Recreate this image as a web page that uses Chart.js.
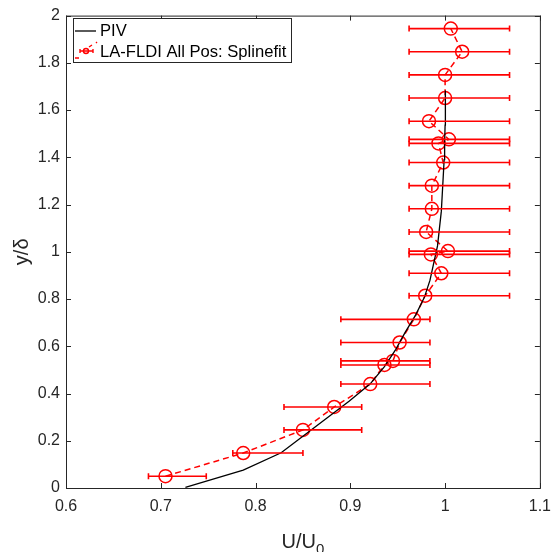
<!DOCTYPE html>
<html>
<head>
<meta charset="utf-8">
<script src="https://cdn.jsdelivr.net/npm/chart.js@4"></script>
<style>
  html, body { margin: 0; padding: 0; background: #fff; }
  canvas { display: block; }
</style>
</head>
<body>
<canvas id="chart" width="560" height="552"></canvas>
<script>
/* velocity profile: PIV vs LA-FLDI spline fit */

// PIV reference profile
const pivU = [0.726, 0.787, 0.827, 0.851, 0.875, 0.899, 0.921, 0.936, 0.948, 0.958, 0.969, 0.978,
              0.984, 0.988, 0.992, 0.994, 0.996, 0.997, 0.998, 0.999, 0.9995, 1.000, 1.0003, 1.0003];
const pivY = [0.003, 0.076, 0.149, 0.222, 0.295, 0.368, 0.441, 0.514, 0.587, 0.660, 0.733, 0.806,
              0.879, 0.952, 1.025, 1.098, 1.171, 1.244, 1.317, 1.390, 1.463, 1.536, 1.609, 1.683];

// LA-FLDI points (spline fit) with horizontal error bounds
const fldiU = [0.705, 0.787, 0.850, 0.883, 0.921, 0.936, 0.945, 0.952, 0.967, 0.979, 0.996, 0.985,
               1.003, 0.980, 0.986, 0.986, 0.998, 0.993, 1.004, 0.983, 1.000, 1.000, 1.018, 1.006];
const fldiY = [0.050, 0.148, 0.246, 0.343, 0.440, 0.521, 0.538, 0.616, 0.714, 0.814, 0.909, 0.989,
               1.003, 1.084, 1.182, 1.280, 1.378, 1.459, 1.476, 1.553, 1.651, 1.749, 1.847, 1.945];
const fldiLow  = [0.687, 0.776, 0.830, 0.830, 0.890, 0.890, 0.890, 0.890, 0.890, 0.962, 0.962, 0.962,
                  0.962, 0.962, 0.962, 0.962, 0.962, 0.962, 0.962, 0.962, 0.962, 0.962, 0.962, 0.962];
const fldiHigh = [0.748, 0.850, 0.912, 0.912, 0.984, 0.984, 0.984, 0.984, 0.984, 1.068, 1.068, 1.068,
                  1.068, 1.068, 1.068, 1.068, 1.068, 1.068, 1.068, 1.068, 1.068, 1.068, 1.068, 1.068];

const xTickValues = [0.6, 0.7, 0.8, 0.9, 1.0, 1.1];
const xTickLabels = ['0.6', '0.7', '0.8', '0.9', '1', '1.1'];
const yTickValues = [0, 0.2, 0.4, 0.6, 0.8, 1.0, 1.2, 1.4, 1.6, 1.8, 2.0];
const yTickLabels = ['0', '0.2', '0.4', '0.6', '0.8', '1', '1.2', '1.4', '1.6', '1.8', '2'];

const legendLabels = ['PIV', 'LA-FLDI All Pos: Splinefit'];

const FONT = "'Liberation Sans', Arial, sans-serif";
const AXIS = '#262626';
const RED = '#ff0000';

const toPts = (xs, ys) => xs.map((x, i) => ({ x, y: ys[i] }));

// horizontal error bars, drawn through the chart's own scales
const errorBars = {
    id: 'errorBars',
    afterDatasetsDraw(chart) {
        const { ctx, scales: { x, y } } = chart;
        ctx.save();
        ctx.strokeStyle = RED;
        ctx.lineWidth = 1.6;
        fldiY.forEach((v, i) => {
            const py = y.getPixelForValue(v);
            const x0 = x.getPixelForValue(fldiLow[i]);
            const x1 = x.getPixelForValue(fldiHigh[i]);
            ctx.beginPath();
            ctx.moveTo(x0, py); ctx.lineTo(x1, py);
            ctx.moveTo(x0, py - 3); ctx.lineTo(x0, py + 3);
            ctx.moveTo(x1, py - 3); ctx.lineTo(x1, py + 3);
            ctx.stroke();
        });
        ctx.restore();
    }
};

// matlab-style box with inward ticks, axis titles, legend
const frame = {
    id: 'frame',
    afterDraw(chart) {
        const { ctx, chartArea: a, scales: { x, y } } = chart;
        ctx.save();
        ctx.strokeStyle = AXIS;
        ctx.lineWidth = 1;
        ctx.strokeRect(a.left + 0.5, a.top + 0.5, a.right - a.left, a.bottom - a.top);
        ctx.beginPath();
        xTickValues.forEach(v => {
            const px = Math.round(x.getPixelForValue(v)) + 0.5;
            ctx.moveTo(px, a.bottom); ctx.lineTo(px, a.bottom - 5);
            ctx.moveTo(px, a.top); ctx.lineTo(px, a.top + 5);
        });
        yTickValues.forEach(v => {
            const py = Math.round(y.getPixelForValue(v)) + 0.5;
            ctx.moveTo(a.left, py); ctx.lineTo(a.left + 5, py);
            ctx.moveTo(a.right, py); ctx.lineTo(a.right - 5, py);
        });
        ctx.stroke();

        // x title U/U0
        ctx.fillStyle = AXIS;
        ctx.textBaseline = 'alphabetic';
        const main = 'U/U';
        ctx.font = '20px ' + FONT;
        const wMain = ctx.measureText(main).width;
        ctx.font = '15px ' + FONT;
        const wSub = ctx.measureText('0').width;
        const cx = (a.left + a.right) / 2;
        const sx = cx - (wMain + wSub) / 2;
        ctx.font = '20px ' + FONT;
        ctx.textAlign = 'left';
        ctx.fillText(main, sx, 548);
        ctx.font = '15px ' + FONT;
        ctx.fillText('0', sx + wMain, 554);

        // y title
        ctx.save();
        ctx.translate(28, (a.top + a.bottom) / 2);
        ctx.rotate(-Math.PI / 2);
        ctx.textAlign = 'center';
        ctx.font = '20px ' + FONT;
        ctx.fillText('y/δ', 0, 0);
        ctx.restore();

        // legend
        const lx = 73, ly = 18, lw = 218, lh = 44;
        ctx.fillStyle = '#fff';
        ctx.fillRect(lx, ly, lw, lh);
        ctx.strokeStyle = AXIS;
        ctx.strokeRect(lx + 0.5, ly + 0.5, lw, lh);
        ctx.font = '16.6px ' + FONT;
        ctx.fillStyle = '#000';
        ctx.textBaseline = 'middle';
        ctx.fillText(legendLabels[0], 100, 31);
        ctx.fillText(legendLabels[1], 100, 52);
        ctx.strokeStyle = '#000';
        ctx.lineWidth = 1.3;
        ctx.beginPath(); ctx.moveTo(75, 31); ctx.lineTo(96, 31); ctx.stroke();
        // mini errorbar marker
        ctx.strokeStyle = RED;
        ctx.lineWidth = 1.4;
        ctx.beginPath();
        ctx.moveTo(80, 51); ctx.lineTo(93, 51);
        ctx.moveTo(80, 49); ctx.lineTo(80, 53);
        ctx.moveTo(93, 49); ctx.lineTo(93, 53);
        ctx.stroke();
        ctx.beginPath(); ctx.arc(86, 51, 2.5, 0, Math.PI * 2); ctx.stroke();
        ctx.beginPath();
        ctx.moveTo(75, 58); ctx.lineTo(79, 58);
        ctx.moveTo(89, 47); ctx.lineTo(92, 45);
        ctx.moveTo(96, 43); ctx.lineTo(97, 42);
        ctx.stroke();
        ctx.restore();
    }
};

const tickFont = { family: FONT, size: 16 };

new Chart(document.getElementById('chart'), {
    type: 'scatter',
    data: {
        datasets: [
            {
                label: legendLabels[0],
                data: toPts(pivU, pivY),
                showLine: true,
                borderColor: '#000',
                borderWidth: 1.3,
                pointRadius: 0,
                tension: 0,
            },
            {
                label: legendLabels[1],
                data: toPts(fldiU, fldiY),
                showLine: true,
                borderColor: RED,
                borderWidth: 1.5,
                borderDash: [6, 4],
                pointRadius: 6.5,
                pointBorderWidth: 1.5,
                pointBorderColor: RED,
                pointBackgroundColor: 'rgba(0,0,0,0)',
                tension: 0,
            },
        ],
    },
    options: {
        responsive: false,
        animation: false,
        devicePixelRatio: 1,
        clip: false,
        layout: { padding: { left: 0, top: 12, right: 17, bottom: 0 } },
        plugins: { legend: { display: false }, tooltip: { enabled: false } },
        scales: {
            x: {
                type: 'linear', min: 0.6, max: 1.1,
                afterBuildTicks: s => { s.ticks = xTickValues.map(value => ({ value })); },
                afterFit: s => { s.height = 64; },
                grid: { display: false, drawTicks: false },
                border: { display: false },
                ticks: {
                    font: tickFont, color: AXIS, padding: 9, maxRotation: 0,
                    callback: (v, i) => xTickLabels[i],
                },
            },
            y: {
                type: 'linear', min: 0, max: 2,
                afterBuildTicks: s => { s.ticks = yTickValues.map(value => ({ value })); },
                afterFit: s => { s.width = 66; },
                grid: { display: false, drawTicks: false },
                border: { display: false },
                ticks: {
                    font: tickFont, color: AXIS, padding: 6,
                    callback: (v, i) => yTickLabels[i],
                },
            },
        },
    },
    plugins: [errorBars, frame],
});
</script>
</body>
</html>
